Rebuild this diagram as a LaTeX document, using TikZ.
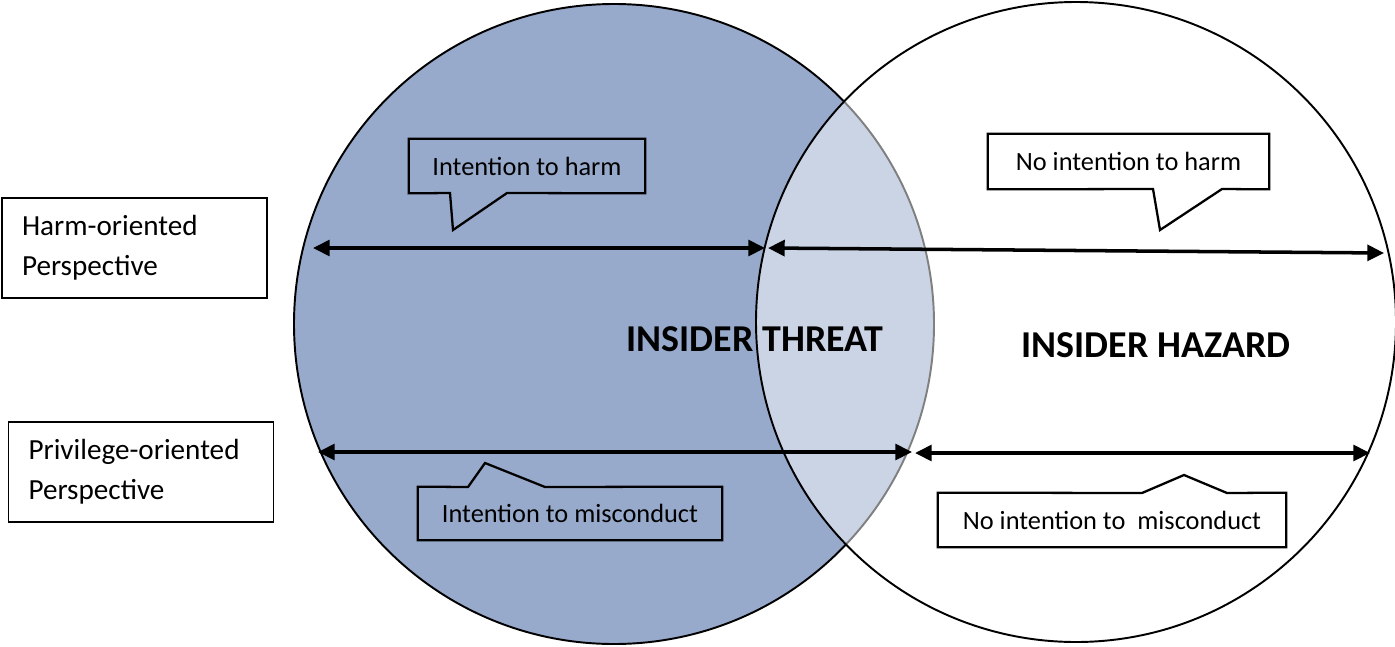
\documentclass[tikz,border=0pt]{standalone}
\usepackage{fontspec}
\setmainfont{Carlito}
\usetikzlibrary{arrows.meta, positioning}
\definecolor{threatblue}{HTML}{97AACB}

\begin{document}
\begin{tikzpicture}[x=0.02cm, y=-0.02cm,
	twoway/.style={{Triangle[length=9.5pt, width=9pt]}-{Triangle[length=9.5pt, width=9pt]}, line width=2pt},
	bubble/.style={inner sep=0pt, font=\fontsize{15}{18}\selectfont},
	bubbleline/.style={line width=1.3pt, line join=miter},
	perspbox/.style={draw, line width=0.6pt, align=left, inner xsep=0.4cm, inner ysep=0pt, text width=4.5cm, minimum height=2cm, font=\fontsize{16.6}{22.7}\selectfont},
	bigtitle/.style={inner sep=0pt, font=\fontsize{21.6}{24}\selectfont\bfseries}]
	
	% page frame
	\fill[white] (0,0) rectangle (1395,646);
	\useasboundingbox (0,0) rectangle (1395,646);
	
	% two sets
	\draw[fill=threatblue, line width=1.1pt] (614,324) circle[radius=320];
	\draw[fill=white, fill opacity=0.5, line width=1.1pt] (1076,322) circle[radius=320];
	
	% perspectives on the left
	\node[perspbox] (harmview) at (134.5,248) {Harm-oriented\\Perspective};
	\node[perspbox] (privview) at (141,472) {Privilege-oriented\\Perspective};
	
	% arrow ends
	\coordinate (hl) at (313,248);
	\coordinate (hm) at (765,248);
	\coordinate (hm2) at (768,248);
	\coordinate (hr) at (1384,253);
	\coordinate (pl) at (318,452);
	\coordinate (pm) at (912,452);
	\coordinate (pm2) at (915,453);
	\coordinate (pr) at (1370,453);
	
	% harm-oriented arrows
	\draw[twoway] (hl) -- (hm);
	\draw[twoway] (hm2) -- (hr);
	
	% privilege-oriented arrows
	\draw[twoway] (pl) -- (pm);
	\draw[twoway] (pm2) -- (pr);
	
	% Intention to harm
	\node[bubble, minimum width=4.72cm, minimum height=1.08cm] (harmyes) at (527,166) {Intention to harm};
	\draw[bubbleline] (harmyes.south west) -- (harmyes.north west) -- (harmyes.north east) -- (harmyes.south east)
		-- (507,193) -- (453,230) -- (450,193) -- cycle;
	
	% No intention to harm
	\node[bubble, minimum width=5.62cm, minimum height=1.1cm] (harmno) at (1128.5,161.5) {No intention to harm};
	\draw[bubbleline] (harmno.south west) -- (harmno.north west) -- (harmno.north east) -- (harmno.south east)
		-- (1222,189) -- (1160,230) -- (1153,189) -- cycle;
	
	% Intention to misconduct
	\node[bubble, minimum width=6.08cm, minimum height=1.06cm] (miscyes) at (570,513.5) {Intention to misconduct};
	\draw[bubbleline] (miscyes.north west) -- (miscyes.south west) -- (miscyes.south east) -- (miscyes.north east)
		-- (545,487) -- (485,463) -- (468,487) -- cycle;
	
	% No intention to misconduct
	\node[bubble, minimum width=6.96cm, minimum height=1.08cm] (miscno) at (1112,520) {No intention to~ misconduct};
	\draw[bubbleline] (miscno.north west) -- (miscno.south west) -- (miscno.south east) -- (miscno.north east)
		-- (1227,493) -- (1184,475) -- (1142,493) -- cycle;
	
	% set names
	\node[bigtitle] (threat) at (755,339) {INSIDER THREAT};
	\node[bigtitle] (hazard) at (1156,345) {INSIDER HAZARD};
	
\end{tikzpicture}
\end{document}
